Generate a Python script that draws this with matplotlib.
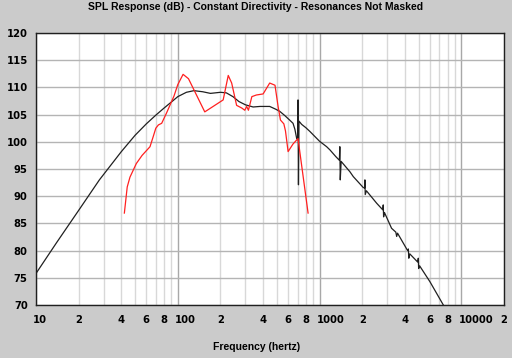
import numpy as np
import matplotlib
matplotlib.use('Agg')
import matplotlib.pyplot as plt
import matplotlib.transforms as mtransforms
from matplotlib.ticker import LogLocator, FuncFormatter, FixedLocator

# system response (black), with the small resonance spikes on the way down
sys_freq = [10, 14, 20, 28, 40, 50, 60, 70, 80, 90, 100, 115, 130, 150, 170,
            200, 220, 245, 270, 300, 340, 380, 445, 490, 524, 570, 615, 650,
            670, 690, 700, 705, 710, 716, 748, 800, 855, 1000, 1122, 1185, 1300,
            1380, 1390, 1400, 1420, 1637, 1730, 2032, 2080, 2089, 2100, 2140,
            2530, 2790, 2814, 2830, 2870, 3221, 3450, 3500, 3550, 4180, 4230,
            4260, 4330, 4920, 4973, 5000, 5080, 6000, 7466, 7900]
sys_db = [75.8, 81.5, 87.4, 93.0, 98.2, 101.2, 103.3, 104.9, 106.2, 107.3,
          108.3, 109.1, 109.4, 109.2, 108.9, 109.1, 109.0, 108.3, 107.4, 106.8,
          106.4, 106.5, 106.5, 106.0, 105.6, 104.8, 104.0, 103.4, 102.3, 100.6,
          100.4, 107.7, 92.1, 103.8, 103.2, 102.6, 101.9, 100.1, 99.1, 98.5,
          97.3, 96.6, 99.1, 93.0, 96.4, 94.5, 93.6, 91.6, 91.5, 93.0, 90.3,
          91.0, 88.7, 87.5, 88.4, 86.2, 87.0, 84.1, 83.4, 82.6, 83.2, 80.0,
          80.3, 78.6, 79.4, 77.9, 78.6, 76.7, 77.2, 74.3, 70.0, 68.8]

# driver response (red)
drv_freq = [42, 44, 46, 51, 56, 63.7, 67, 70, 73, 77, 83, 94, 100, 109, 119,
            155, 209, 227, 240, 260, 283, 297, 306, 315, 333, 358, 400, 445,
            485, 510, 530, 560, 575, 600, 650, 705, 830]
drv_db = [86.9, 91.7, 93.5, 96.0, 97.5, 99.1, 100.9, 102.5, 103.1, 103.4,
          105.2, 108.4, 110.5, 112.4, 111.6, 105.5, 107.7, 112.2, 110.8, 106.7,
          106.2, 105.8, 106.5, 105.8, 108.3, 108.6, 108.8, 110.8, 110.4, 106.5,
          104.0, 103.3, 102.0, 98.2, 99.6, 100.6, 86.9]

y_ticks = [70, 75, 80, 85, 90, 95, 100, 105, 110, 115, 120]
decades = [10, 100, 1000, 10000]

bg = '#cbcbcb'
tick_font = 'DejaVu Sans'
label_font = 'Liberation Sans'

fig = plt.figure(figsize=(5.12, 3.58), dpi=100, facecolor=bg)
ax = fig.add_axes([36/512, 1 - 305/358, 468/512, 272/358])
ax.set_facecolor('white')

ax.semilogx(sys_freq, sys_db, color='#202020', lw=0.9, zorder=3)
ax.semilogx(drv_freq, drv_db, color='#ff2020', lw=0.9, zorder=4)

ax.set_xlim(10, 20000)
ax.set_ylim(70, 120)

# grid: darker decade lines, lighter in-between lines
ax.xaxis.set_major_locator(FixedLocator(decades))
ax.xaxis.set_minor_locator(LogLocator(base=10, subs=range(2, 10), numticks=20))
ax.xaxis.set_major_formatter(FuncFormatter(lambda v, p: '%d' % round(v)))

def minor_fmt(v, p):
    d = int(round(v / 10 ** np.floor(np.log10(v) + 1e-9)))
    return str(d) if d in (2, 4, 6, 8) else ''

ax.xaxis.set_minor_formatter(FuncFormatter(minor_fmt))
ax.set_yticks(y_ticks)

ax.grid(which='major', axis='x', color='#a8a8a8', lw=1.0)
ax.grid(which='minor', axis='x', color='#d8d8d8', lw=1.0)
ax.grid(which='major', axis='y', color='#b4b4b4', lw=1.0)
ax.set_axisbelow(True)

ax.tick_params(which='both', length=0, labelsize=7.2, colors='black')
ax.tick_params(axis='x', which='both', pad=7)
ax.tick_params(axis='y', pad=6)
for lab in ax.get_xticklabels(which='both') + ax.get_yticklabels():
    lab.set_fontweight('bold')
    lab.set_family(tick_font)

# decade labels start just left of their line
shift = mtransforms.ScaledTranslation(-3/100, 0, fig.dpi_scale_trans)
for lab in ax.get_xticklabels():
    lab.set_horizontalalignment('left')
    lab.set_transform(lab.get_transform() + shift)

for s in ax.spines.values():
    s.set_color('#202020')
    s.set_linewidth(1.0)

fig.text(256/512, 1 - 7.5/358, 'SPL Response (dB) - Constant Directivity - Resonances Not Masked',
         ha='center', va='center', fontsize=7.5, fontweight='bold', family=label_font)
fig.text(257/512, 1 - 346.5/358, 'Frequency (hertz)', ha='center', va='center',
         fontsize=7.5, fontweight='bold', family=label_font)

fig.savefig('out.png', dpi=100, facecolor=bg)
